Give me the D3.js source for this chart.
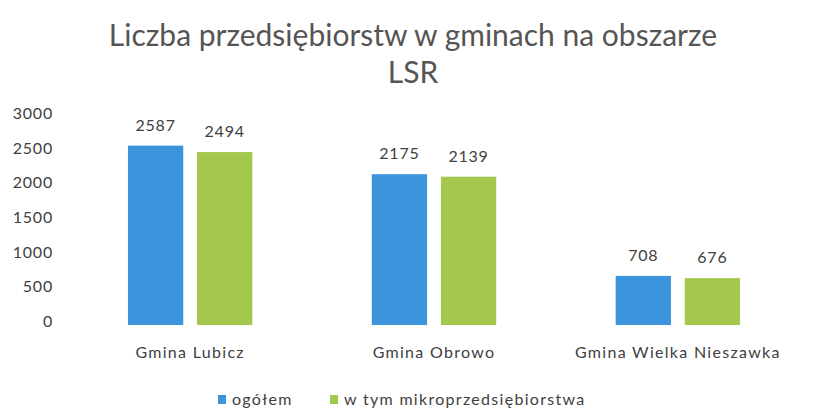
<!DOCTYPE html>
<html>
<head>
<meta charset="utf-8">
<script src="https://cdn.jsdelivr.net/npm/d3@7"></script>
<style>
  body { margin: 0; background: #fff; }
  svg text { font-family: Lato, "Open Sans", sans-serif; }
</style>
</head>
<body>
<svg width="818" height="414"></svg>
<script>
// chart data
const gminy = ['Gmina Lubicz', 'Gmina Obrowo', 'Gmina Wielka Nieszawka'];
const seriesNames = ['ogółem', 'w tym mikroprzedsiębiorstwa'];
const ogolem = [2587, 2175, 708];
const mikro = [2494, 2139, 676];
const yTicks = [0, 500, 1000, 1500, 2000, 2500, 3000];
const colors = ['#3c94dc', '#a4c84e'];

const svg = d3.select("svg");

// title
svg.append("text")
    .attr("x", 413)
    .attr("y", 46)
    .attr("text-anchor", "middle")
    .style("font-size", "30px")
    .style("fill", "#555555")
    .text("Liczba przedsiębiorstw w gminach na obszarze");
svg.append("text")
    .attr("x", 413)
    .attr("y", 83)
    .attr("text-anchor", "middle")
    .style("font-size", "30px")
    .style("fill", "#555555")
    .text("LSR");

const y = d3.scaleLinear().domain([0, 3000]).range([325, 117]);
const x0 = d3.scaleBand().domain(gminy).range([67, 801])
    .paddingInner(0.49).paddingOuter(0.25);
const x1 = d3.scaleBand().domain(seriesNames).range([0, x0.bandwidth()])
    .paddingInner(0.2);

// y axis (labels only)
const yAxis = svg.append("g")
    .attr("transform", "translate(53,0)")
    .call(d3.axisLeft(y).tickValues(yTicks).tickFormat(d3.format("d"))
        .tickSize(0).tickPadding(0));
yAxis.select(".domain").remove();
yAxis.selectAll("text")
    .style("font-size", "16px")
    .style("letter-spacing", "0.8px")
    .style("fill", "#404040")
    .attr("dy", "0.1em");

// x axis (labels only)
const xAxis = svg.append("g")
    .attr("transform", "translate(0,347)")
    .call(d3.axisBottom(x0).tickSize(0).tickPadding(0));
xAxis.select(".domain").remove();
xAxis.selectAll("text")
    .style("font-size", "16px")
    .style("letter-spacing", "1.3px")
    .style("fill", "#404040");

// bars
const rows = gminy.map((g, i) => ({ g: g, vals: [ogolem[i], mikro[i]] }));
const groups = svg.selectAll("g.grp")
    .data(rows)
    .enter()
    .append("g")
    .attr("class", "grp")
    .attr("transform", d => "translate(" + x0(d.g) + ",0)");

groups.selectAll("rect")
    .data(d => d.vals.map((v, j) => ({ s: seriesNames[j], v: v, j: j })))
    .enter()
    .append("rect")
    .attr("x", d => x1(d.s))
    .attr("y", d => y(d.v))
    .attr("width", x1.bandwidth())
    .attr("height", d => y(0) - y(d.v))
    .attr("fill", d => colors[d.j]);

// value labels
groups.selectAll("text.val")
    .data(d => d.vals.map((v, j) => ({ s: seriesNames[j], v: v })))
    .enter()
    .append("text")
    .attr("class", "val")
    .attr("x", d => x1(d.s) + x1.bandwidth() / 2)
    .attr("y", d => y(d.v) - 15)
    .attr("text-anchor", "middle")
    .style("font-size", "16px")
    .style("letter-spacing", "0.8px")
    .style("fill", "#404040")
    .text(d => d.v);

// legend
const legendX = [218, 330];
const legend = svg.selectAll("g.leg")
    .data(seriesNames)
    .enter()
    .append("g")
    .attr("class", "leg")
    .attr("transform", (d, i) => "translate(" + legendX[i] + ",395)");
legend.append("rect")
    .attr("width", 8)
    .attr("height", 9)
    .attr("fill", (d, i) => colors[i]);
legend.append("text")
    .attr("x", 14)
    .attr("y", 10)
    .style("font-size", "16px")
    .style("letter-spacing", "1.3px")
    .style("fill", "#404040")
    .text(d => d);
</script>
</body>
</html>
